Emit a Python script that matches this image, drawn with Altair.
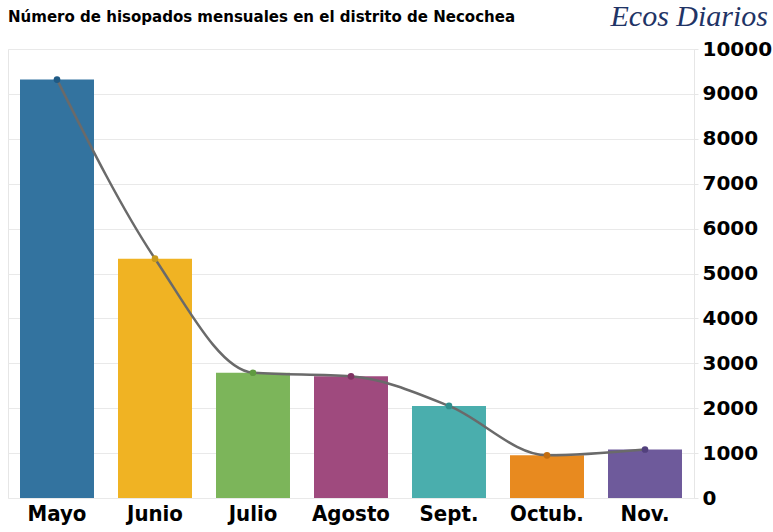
import altair as alt
import pandas as pd

months = ["Mayo", "Junio", "Julio", "Agosto", "Sept.", "Octub.", "Nov."]
values = [9320, 5330, 2790, 2710, 2050, 950, 1080]
bar_colors = ["#33739f", "#f0b323", "#7cb55a", "#9f4a7e", "#4aaead", "#e88a1f", "#6e5a9b"]
dot_colors = ["#1f5a85", "#c99a1a", "#5f9a40", "#7f3262", "#2f8f8d", "#c26d10", "#52407d"]
y_ticks = [0, 1000, 2000, 3000, 4000, 5000, 6000, 7000, 8000, 9000, 10000]
title_text = ["Número de hisopados mensuales en el distrito de Necochea"]
logo_text = ["Ecos Diarios"]

df = pd.DataFrame({"mes": months, "valor": values, "color": bar_colors, "dot": dot_colors})

x = alt.X(
    "mes:N", sort=months,
    scale=alt.Scale(paddingInner=0.245, paddingOuter=0.1225),
    axis=alt.Axis(title=None, labelAngle=0, labelFont="DejaVu Sans Condensed",
                  labelFontWeight="bold", labelFontSize=22, labelColor="black",
                  labelPadding=5, ticks=False, domain=False, grid=False),
)
y = alt.Y(
    "valor:Q",
    scale=alt.Scale(domain=[0, 10000], nice=False),
    axis=alt.Axis(orient="right", values=y_ticks, title=None, format="d",
                  labelFont="DejaVu Sans", labelFontWeight="bold", labelFontSize=20,
                  labelColor="black", labelPadding=4, tickColor="#e6e6e6", tickSize=4,
                  domainColor="#e6e6e6", gridColor="#e9e9e9", grid=True),
)

bars = alt.Chart(df).mark_bar().encode(x=x, y=y, color=alt.Color("color:N", scale=None))
line = alt.Chart(df).mark_line(interpolate="monotone", color="#6a6a6a", strokeWidth=2.5).encode(
    x=alt.X("mes:N", sort=months), y="valor:Q")
dots = alt.Chart(df).mark_circle(size=45, opacity=1).encode(
    x=alt.X("mes:N", sort=months), y="valor:Q", color=alt.Color("dot:N", scale=None))

title = alt.Chart(pd.DataFrame({"t": title_text})).mark_text(
    align="left", baseline="middle", font="DejaVu Sans Condensed", fontWeight="bold",
    fontSize=16.7, color="black").encode(x=alt.value(0), y=alt.value(-32), text="t:N")
logo = alt.Chart(pd.DataFrame({"t": logo_text})).mark_text(
    align="right", baseline="middle", font="Liberation Serif", fontStyle="italic",
    fontSize=30, color="#1f3466").encode(x=alt.value(760), y=alt.value(-32), text="t:N")

chart = alt.layer(bars, line, dots, title, logo).properties(
    width=686, height=449,
    padding={"left": 8, "top": 49, "right": 79, "bottom": 34},
    autosize="none",
    background="white",
).configure_view(stroke="#e6e6e6")

chart.save("out.html", embed_options={"renderer": "svg", "actions": False})
